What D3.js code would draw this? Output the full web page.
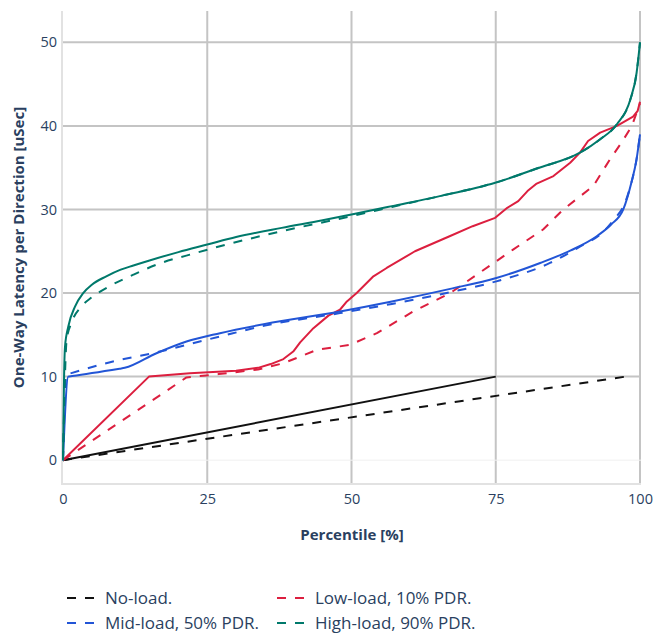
<!DOCTYPE html>
<html>
<head>
<meta charset="utf-8">
<script src="https://cdn.jsdelivr.net/npm/d3@7"></script>
<style>
  html, body { margin: 0; padding: 0; background: #fff; }
  svg { display: block; font-family: "Open Sans", "Noto Sans", sans-serif; }
</style>
</head>
<body>
<svg id="chart" width="658" height="637"></svg>
<script>
// ---------- data ----------
const xTicks = [0, 25, 50, 75, 100];
const yTicks = [0, 10, 20, 30, 40, 50];

const noLoadSolidP = [0, 75];
const noLoadSolidV = [0, 10];
const noLoadDashP  = [0, 97.5];
const noLoadDashV  = [0, 10];

const lowSolidP = [0, 14.9, 22, 30, 33.8, 36, 38.2, 39.9, 41.1, 43.4, 46, 48, 49.2, 50.9, 53.8, 56.1, 61, 67, 71, 74.9, 77, 78.9, 80.5, 82.1, 85, 87.9, 89.6, 91, 93.1, 96, 98.8, 99.6, 100];
const lowSolidV = [0, 10, 10.4, 10.7, 11.05, 11.5, 12.1, 13.0, 14.1, 15.8, 17.3, 18.0, 19.0, 20.0, 22.0, 23.0, 25.0, 26.8, 28.0, 29.0, 30.2, 31.0, 32.2, 33.1, 34.0, 35.6, 36.8, 38.2, 39.2, 40.0, 41.1, 41.8, 42.9];
const lowDashP  = [0, 21.4, 27, 33.8, 38.2, 44, 49.7, 54.4, 60.7, 67.1, 75.5, 78, 83.2, 86.7, 91.9, 94.8, 96.8, 98.6, 100];
const lowDashV  = [0, 9.9, 10.3, 10.85, 11.6, 13.2, 13.8, 15.2, 17.8, 20.0, 24.0, 25.2, 27.6, 30.0, 32.8, 36.0, 38.0, 40.0, 42.7];

const midSolidP = [0, 0.9, 1.6, 9.8, 10.7, 16.2, 21.4, 27.2, 35, 48, 57, 67.1, 75.1, 82.7, 88, 92.5, 95, 97.1, 98.5, 99.4, 100];
const midSolidV = [0, 10.0, 10.07, 10.95, 11.05, 12.8, 14.2, 15.2, 16.3, 17.8, 19.0, 20.5, 21.8, 23.6, 25.1, 26.8, 28.2, 30.0, 33.2, 36.0, 39.0];
const midDashP  = [0, 0.6, 1.2, 8, 16.8, 23.7, 27.2, 35, 48, 57, 67.1, 75.1, 84.4, 90.2, 93.1, 95.5, 97.4, 98.5, 99.4, 100];
const midDashV  = [0, 10.25, 10.37, 11.7, 13.0, 14.2, 14.8, 16.1, 17.6, 18.7, 20.1, 21.4, 23.6, 25.8, 27.0, 28.8, 30.8, 33.2, 36.0, 39.0];

const highSolidP = [0, 0.05, 0.17, 0.35, 0.92, 2.1, 3.5, 5, 7.5, 10, 12.2, 15, 20, 25, 30, 37.9, 45, 50, 57, 65.3, 74.9, 82.1, 89.6, 93.1, 96, 98.3, 99.4, 100];
const highSolidV = [0, 2.9, 9.3, 13.6, 16.0, 18.4, 20.0, 21.0, 22.0, 22.8, 23.3, 23.9, 24.9, 25.8, 26.7, 27.8, 28.7, 29.4, 30.4, 31.6, 33.2, 34.9, 36.8, 38.4, 40.2, 43.1, 46.3, 50];
const highDashP  = [0, 0.1, 0.3, 0.63, 1.5, 3.2, 5, 8, 12.2, 17, 22, 27.2, 37.9, 50, 57, 65.3, 74.9, 82.1, 89.6, 93.1, 96, 98.3, 99.4, 100];
const highDashV  = [0, 3, 9, 14.4, 16.5, 18.4, 19.5, 20.8, 22.2, 23.6, 24.6, 25.6, 27.4, 29.2, 30.3, 31.6, 33.2, 34.9, 36.8, 38.4, 40.2, 43.1, 46.3, 50];

const seriesNames  = ["No-load.", "Low-load, 10% PDR.", "Mid-load, 50% PDR.", "High-load, 90% PDR."];
const seriesColors = ["#111111", "#dc1f3f", "#2255d6", "#00796b"];

// ---------- layout ----------
const svg = d3.select("#chart");
const x = d3.scaleLinear().domain([0, 100]).range([63, 640]);
const y = d3.scaleLinear().domain([-2.85, 53.75]).range([484, 11]);
const textColor = "#2a3f5f";

// gridlines
const grid = svg.append("g");
grid.selectAll("line.vg").data(xTicks.filter(d => d > 0)).join("line")
  .attr("x1", d => x(d)).attr("x2", d => x(d)).attr("y1", 11).attr("y2", 484)
  .attr("stroke", "#c4c4c4").attr("stroke-width", 2);
grid.selectAll("line.hg").data(yTicks.filter(d => d > 0)).join("line")
  .attr("x1", 62).attr("x2", 641).attr("y1", d => y(d)).attr("y2", d => y(d))
  .attr("stroke", "#c4c4c4").attr("stroke-width", 2);
// zero line
grid.append("line").attr("x1", 62).attr("x2", 641).attr("y1", y(0)).attr("y2", y(0))
  .attr("stroke", "#f0f0f0").attr("stroke-width", 1);
// axis lines
grid.append("line").attr("x1", 62).attr("x2", 641).attr("y1", 484).attr("y2", 484)
  .attr("stroke", "#e2e2e2").attr("stroke-width", 2);
grid.append("line").attr("x1", 62).attr("x2", 62).attr("y1", 11).attr("y2", 485)
  .attr("stroke", "#e2e2e2").attr("stroke-width", 2);

// axes (labels only)
const xAxis = svg.append("g").attr("transform", "translate(0,484)")
  .call(d3.axisBottom(x).tickValues(xTicks).tickSize(0).tickPadding(10).tickFormat(d3.format("d")));
const yAxis = svg.append("g").attr("transform", "translate(62,0)")
  .call(d3.axisLeft(y).tickValues(yTicks).tickSize(0).tickPadding(5).tickFormat(d3.format("d")));
[xAxis, yAxis].forEach(a => {
  a.select(".domain").remove();
  a.selectAll("text").attr("fill", textColor).style("font-size", "14.5px")
    .style("font-family", "'Open Sans', sans-serif");
});

// axis titles
svg.append("text").attr("x", 352).attr("y", 540).attr("text-anchor", "middle")
  .attr("fill", textColor).style("font-size", "15px").style("font-weight", "bold")
  .text("Percentile [%]");
svg.append("text").attr("transform", "translate(23.5,247.5) rotate(-90)").attr("text-anchor", "middle")
  .attr("fill", textColor).style("font-size", "15px").style("font-weight", "bold")
  .text("One-Way Latency per Direction [uSec]");

// lines
const lineLin = d3.line().x(d => x(d[0])).y(d => y(d[1]));
const lineSmooth = d3.line().curve(d3.curveMonotoneX).x(d => x(d[0])).y(d => y(d[1]));
const zip = (p, v) => p.map((pp, i) => [pp, v[i]]);
const traces = [
  { p: noLoadSolidP, v: noLoadSolidV, c: 0, dash: false, smooth: false },
  { p: noLoadDashP,  v: noLoadDashV,  c: 0, dash: true,  smooth: false },
  { p: lowSolidP,    v: lowSolidV,    c: 1, dash: false, smooth: false },
  { p: lowDashP,     v: lowDashV,     c: 1, dash: true,  smooth: false },
  { p: midSolidP,    v: midSolidV,    c: 2, dash: false, smooth: true },
  { p: midDashP,     v: midDashV,     c: 2, dash: true,  smooth: true },
  { p: highSolidP,   v: highSolidV,   c: 3, dash: false, smooth: true },
  { p: highDashP,    v: highDashV,    c: 3, dash: true,  smooth: true }
];
svg.append("g").selectAll("path").data(traces).join("path")
  .attr("d", t => (t.smooth ? lineSmooth : lineLin)(zip(t.p, t.v)))
  .attr("fill", "none")
  .attr("stroke", t => seriesColors[t.c])
  .attr("stroke-width", 2)
  .attr("stroke-linejoin", "round")
  .attr("stroke-dasharray", t => t.dash ? "9,9" : null);

// legend
const legPos = [[67, 598], [277, 598], [67, 623], [277, 623]];
const leg = svg.append("g").selectAll("g").data(seriesNames).join("g")
  .attr("transform", (d, i) => `translate(${legPos[i][0]},${legPos[i][1]})`);
leg.append("line").attr("x1", 0).attr("x2", 30).attr("y1", 0).attr("y2", 0)
  .attr("stroke", (d, i) => seriesColors[i]).attr("stroke-width", 2).attr("stroke-dasharray", "9,9");
leg.append("text").attr("x", 38).attr("y", 0).attr("dy", "0.35em")
  .attr("fill", textColor).style("font-size", "17px").text(d => d);
</script>
</body>
</html>
